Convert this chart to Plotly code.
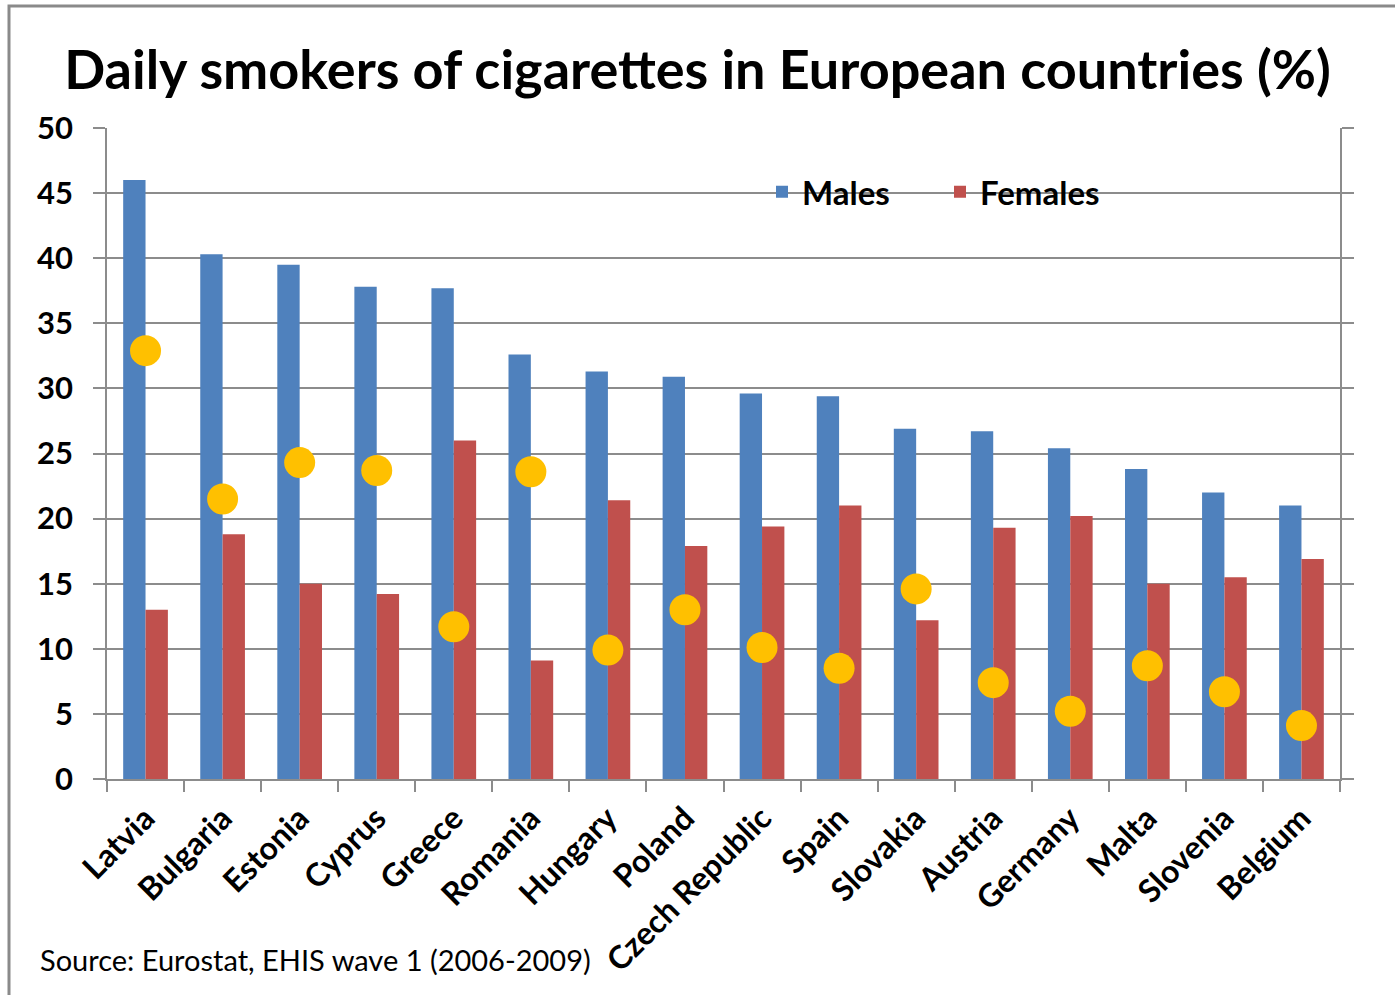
import plotly.graph_objects as go

countries = ["Latvia", "Bulgaria", "Estonia", "Cyprus", "Greece", "Romania", "Hungary",
             "Poland", "Czech Republic", "Spain", "Slovakia", "Austria", "Germany",
             "Malta", "Slovenia", "Belgium"]
males = [46.0, 40.3, 39.5, 37.8, 37.7, 32.6, 31.3, 30.9, 29.6, 29.4, 26.9, 26.7, 25.4, 23.8, 22.0, 21.0]
females = [13.0, 18.8, 15.0, 14.2, 26.0, 9.1, 21.4, 17.9, 19.4, 21.0, 12.2, 19.3, 20.2, 15.0, 15.5, 16.9]
gap = [32.9, 21.5, 24.3, 23.7, 11.7, 23.6, 9.9, 13.0, 10.1, 8.5, 14.6, 7.4, 5.2, 8.7, 6.7, 4.1]
y_ticks = [0, 5, 10, 15, 20, 25, 30, 35, 40, 45, 50]

FONT = "Lato"
GRID = "#8c8c8c"

fig = go.Figure()
fig.add_trace(go.Bar(name="Males", x=countries, y=males, marker=dict(color="#4F81BD", line=dict(width=0))))
fig.add_trace(go.Bar(name="Females", x=countries, y=females, marker=dict(color="#C0504D", line=dict(width=0))))
fig.add_trace(go.Scatter(name="Gap", x=countries, y=gap, mode="markers", showlegend=False,
                         marker=dict(color="#FFC000", size=31, line=dict(width=0))))

fig.update_layout(
    width=1395, height=995,
    margin=dict(l=107, r=55, t=128, b=216),
    paper_bgcolor="white", plot_bgcolor="white",
    barmode="group", bargap=0.42, bargroupgap=0,
    font=dict(family=FONT, color="black"),
    title=dict(text="<b>Daily smokers of cigarettes in European countries (%)</b>",
               x=0.5, xanchor="center", y=1 - 70 / 995, yanchor="middle", yref="container",
               font=dict(family=FONT, size=54, color="black")),
    legend=dict(orientation="h", x=(762 - 107) / 1233, xanchor="left", y=0.902, yanchor="middle",
                bgcolor="rgba(0,0,0,0)",
                font=dict(family=FONT, size=33, color="black", weight="bold"),
                itemwidth=30, entrywidth=133, traceorder="normal"),
    showlegend=True,
)

fig.update_xaxes(
    type="category", range=[-0.5, 15.5], tickson="boundaries", ticks="outside", ticklen=11,
    tickcolor=GRID, tickwidth=1.5,
    showline=True, linecolor=GRID, linewidth=1.5, showgrid=False,
    tickangle=-45, tickfont=dict(family=FONT, size=32, color="black", weight="bold"),
    ticklabelstandoff=6,
)
fig.update_yaxes(
    range=[0, 50], tickvals=y_ticks, ticks="outside", ticklen=12, tickcolor=GRID, tickwidth=1.5,
    showline=True, linecolor=GRID, linewidth=1.5, mirror="ticks",
    showgrid=True, gridcolor=GRID, gridwidth=1.5, zeroline=False,
    tickfont=dict(family=FONT, size=31, color="black", weight="bold"), ticklabelstandoff=14,
)

# white strip behind legend hiding the gridline
fig.add_shape(type="rect", xref="paper", yref="paper", layer="between",
              x0=(720 - 107) / 1233, x1=(1150 - 107) / 1233, y0=0.885, y1=0.915,
              fillcolor="white", line=dict(width=0))
# outer frame
fig.add_shape(type="rect", xref="paper", yref="paper", layer="above",
              x0=(9 - 107) / 1233, x1=1.2, y0=-0.5, y1=(779 - 6) / 651,
              fillcolor="rgba(0,0,0,0)", line=dict(color="#8a8a8a", width=3))

fig.add_annotation(text="Source: Eurostat, EHIS wave 1 (2006-2009)", xref="paper", yref="paper",
                   x=(38 - 107) / 1233, xanchor="left", y=(779 - 959) / 651, yanchor="middle",
                   showarrow=False, font=dict(family=FONT, size=29, color="black"))

fig.write_html("out.html")
